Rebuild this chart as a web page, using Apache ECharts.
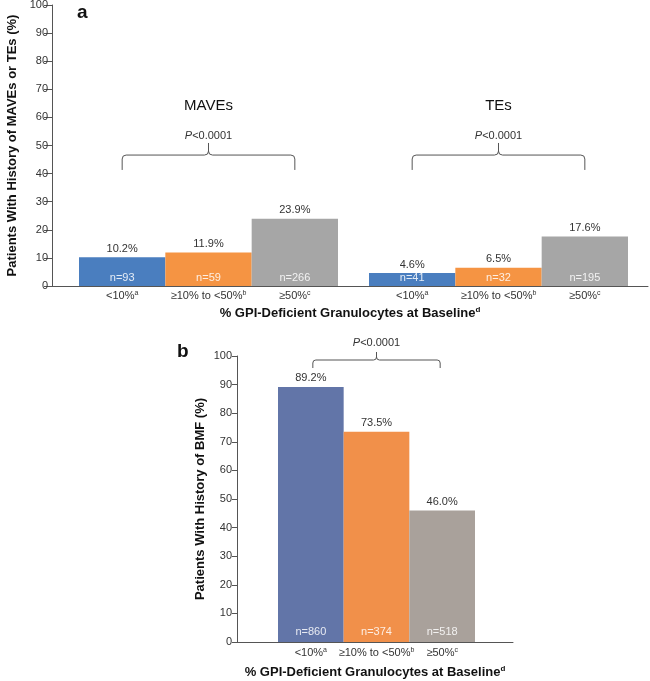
<!DOCTYPE html>
<html>
<head>
<meta charset="utf-8">
<script src="https://cdn.jsdelivr.net/npm/echarts@6/dist/echarts.min.js"></script>
<style>
html,body{margin:0;padding:0;background:#fff;}
#c{width:650px;height:681px;}
</style>
</head>
<body>
<div id="c"></div>
<script>
// ---- data ----
const categories = ['<10%', '≥10% to <50%', '≥50%'];
const categorySup = ['a', 'b', 'c'];
const groupNames = ['MAVEs', 'TEs'];
const maveValues = [10.2, 11.9, 23.9];
const maveN = [93, 59, 266];
const teValues = [4.6, 6.5, 17.6];
const teN = [41, 32, 195];
const bmfValues = [89.2, 73.5, 46.0];
const bmfN = [860, 374, 518];
const pText = '<0.0001';
const yMin = 0, yMax = 100, yStep = 10;
const xTitle = '% GPI-Deficient Granulocytes at Baseline';
const xTitleSup = 'd';
const yTitleA = 'Patients With History of MAVEs or TEs (%)';
const yTitleB = 'Patients With History of BMF (%)';

// ---- styling ----
const FONT = 'Liberation Sans, Arial, Helvetica, sans-serif';
const colorsA = ['#4a7ebf', '#f59443', '#a6a6a6'];
const colorsB = ['#6275a8', '#f1904a', '#a9a19b'];
const axisColor = '#555';
const textColor = '#333';

const chart = echarts.init(document.getElementById('c'), null, {renderer: 'canvas'});

const catLabel = (margin) => ({
  margin: margin,
  color: textColor,
  fontFamily: FONT,
  fontSize: 11,
  interval: 0,
  formatter: (v, i) => '{m|' + v + '}{s|' + categorySup[i] + '}',
  rich: {
    m: {fontSize: 11, fontFamily: FONT, color: textColor},
    s: {fontSize: 7, fontFamily: FONT, color: textColor, padding: [0, 0, 5, 0]}
  }
});

const xName = '{t|' + xTitle + '}{s|' + xTitleSup + '}';
const xNameStyle = {
  rich: {
    t: {fontSize: 13, fontWeight: 'bold', fontFamily: FONT, color: '#111'},
    s: {fontSize: 8, fontWeight: 'bold', fontFamily: FONT, color: '#111', padding: [0, 0, 6, 0]}
  }
};

// grids: 0 frame A, 1 bars MAVEs, 2 bars TEs, 3 frame B, 4 bars BMF
const grids = [
  {left: 52, width: 596, top: 5, height: 281},
  {left: 79, width: 259, top: 5, height: 281},
  {left: 369, width: 259, top: 5, height: 281},
  {left: 237, width: 276, top: 356, height: 286},
  {left: 278, width: 197, top: 356, height: 286}
];
grids.forEach(g => { g.containLabel = false; g.outerBoundsMode = 'none'; });

function frameX(gridIndex, nameGap) {
  return {
    gridIndex, type: 'category', data: [''],
    axisLine: {show: true, lineStyle: {color: axisColor, width: 1}},
    axisTick: {show: false}, axisLabel: {show: false}, splitLine: {show: false},
    name: xName, nameLocation: 'middle', nameGap: nameGap, nameTextStyle: xNameStyle
  };
}
function barX(gridIndex, margin) {
  return {
    gridIndex, type: 'category', data: categories,
    axisLine: {show: false}, axisTick: {show: false}, splitLine: {show: false},
    axisLabel: catLabel(margin)
  };
}
function frameY(gridIndex, name, nameGap, tickLen, labelMargin) {
  return {
    gridIndex, type: 'value', min: yMin, max: yMax, interval: yStep,
    axisLine: {show: true, lineStyle: {color: axisColor, width: 1}},
    axisTick: {show: true, inside: false, length: tickLen, lineStyle: {color: axisColor}},
    axisLabel: {color: textColor, fontSize: 11, fontFamily: FONT, margin: labelMargin},
    splitLine: {show: false},
    name: name, nameLocation: 'middle', nameGap: nameGap,
    nameTextStyle: {fontSize: 13, fontWeight: 'bold', fontFamily: FONT, color: '#111'}
  };
}
function hiddenY(gridIndex) {
  return {gridIndex, type: 'value', min: yMin, max: yMax, interval: yStep, show: false};
}

function barSeries(axisIndex, values, ns, colors, topDist, bottomDist) {
  return [
    {
      type: 'bar', xAxisIndex: axisIndex, yAxisIndex: axisIndex,
      barCategoryGap: '0%', barGap: '-100%',
      data: values.map((v, i) => ({value: v, itemStyle: {color: colors[i]}})),
      label: {
        show: true, position: 'top', distance: topDist,
        color: textColor, fontSize: 11, fontFamily: FONT,
        formatter: p => p.value.toFixed(1) + '%'
      },
      emphasis: {disabled: true}
    },
    {
      type: 'bar', xAxisIndex: axisIndex, yAxisIndex: axisIndex,
      barCategoryGap: '0%', barGap: '-100%',
      data: values,
      itemStyle: {color: 'rgba(0,0,0,0)'},
      label: {
        show: true, position: 'insideBottom', distance: bottomDist,
        color: 'rgba(255,255,255,0.85)', fontSize: 11, fontFamily: FONT,
        formatter: p => 'n=' + ns[p.dataIndex]
      },
      silent: true, emphasis: {disabled: true}
    }
  ];
}

// bracket annotation drawn through the axis scales
function bracketSeries(axisIndex, lv, groupName) {
  return {
    type: 'custom', xAxisIndex: axisIndex, yAxisIndex: axisIndex, clip: false, silent: true,
    data: [[0, 0]],
    renderItem: function (params, api) {
      const x1 = api.coord([0, 0])[0] + (lv.inset || 0);
      const x2 = api.coord([categories.length - 1, 0])[0] - (lv.inset || 0);
      const xm = (x1 + x2) / 2;
      const yTop = api.coord([0, lv.top])[1];
      const yEnd = api.coord([0, lv.end])[1];
      const yPeak = api.coord([0, lv.peak])[1];
      const r = lv.r;
      const d = [
        'M', x1, yEnd, 'L', x1, yTop + r, 'Q', x1, yTop, x1 + r, yTop,
        'L', xm - r, yTop, 'Q', xm, yTop, xm, yTop - r, 'L', xm, yPeak,
        'M', xm, yTop - r, 'Q', xm, yTop, xm + r, yTop,
        'L', x2 - r, yTop, 'Q', x2, yTop, x2, yTop + r, 'L', x2, yEnd
      ].join(' ');
      const children = [
        {type: 'path', shape: {pathData: d}, style: {fill: null, stroke: '#555', lineWidth: 1}},
        {type: 'text', x: xm, y: api.coord([0, lv.p])[1],
          style: {text: '{i|P}' + pText, align: 'center', verticalAlign: 'middle',
            font: '11px ' + FONT, fill: textColor,
            rich: {i: {fontStyle: 'italic', fontSize: 11, fontFamily: FONT, fill: textColor}}}}
      ];
      if (groupName) {
        children.push({type: 'text', x: xm, y: api.coord([0, lv.name])[1],
          style: {text: groupName, align: 'center', verticalAlign: 'middle',
            font: '15px ' + FONT, fill: '#111'}});
      }
      return {type: 'group', children};
    }
  };
}

const levelsA = {top: 46.6, end: 41.3, peak: 50.9, p: 53.4, name: 64.1, r: 4, inset: 0};
const levelsB = {top: 98.6, end: 95.8, peak: 101.4, p: 104.5, r: 3, inset: 2};

const option = {
  animation: false,
  backgroundColor: '#fff',
  textStyle: {fontFamily: FONT},
  grid: grids,
  xAxis: [frameX(0, 20), barX(1, 4), barX(2, 4), frameX(3, 23), barX(4, 5)],
  yAxis: [frameY(0, yTitleA, 33, 8, 4), hiddenY(1), hiddenY(2), frameY(3, yTitleB, 30, 5, 5), hiddenY(4)],
  series: [
    ...barSeries(1, maveValues, maveN, colorsA, 3, 3),
    ...barSeries(2, teValues, teN, colorsA, 3, 3),
    ...barSeries(4, bmfValues, bmfN, colorsB, 3, 5),
    bracketSeries(1, levelsA, groupNames[0]),
    bracketSeries(2, levelsA, groupNames[1]),
    bracketSeries(4, levelsB, null)
  ],
  graphic: [
    {type: 'text', left: 77, top: 3, style: {text: 'a', font: 'bold 19px ' + FONT, fill: '#111'}},
    {type: 'text', left: 177, top: 342, style: {text: 'b', font: 'bold 19px ' + FONT, fill: '#111'}}
  ]
};
chart.setOption(option);
</script>
</body>
</html>
